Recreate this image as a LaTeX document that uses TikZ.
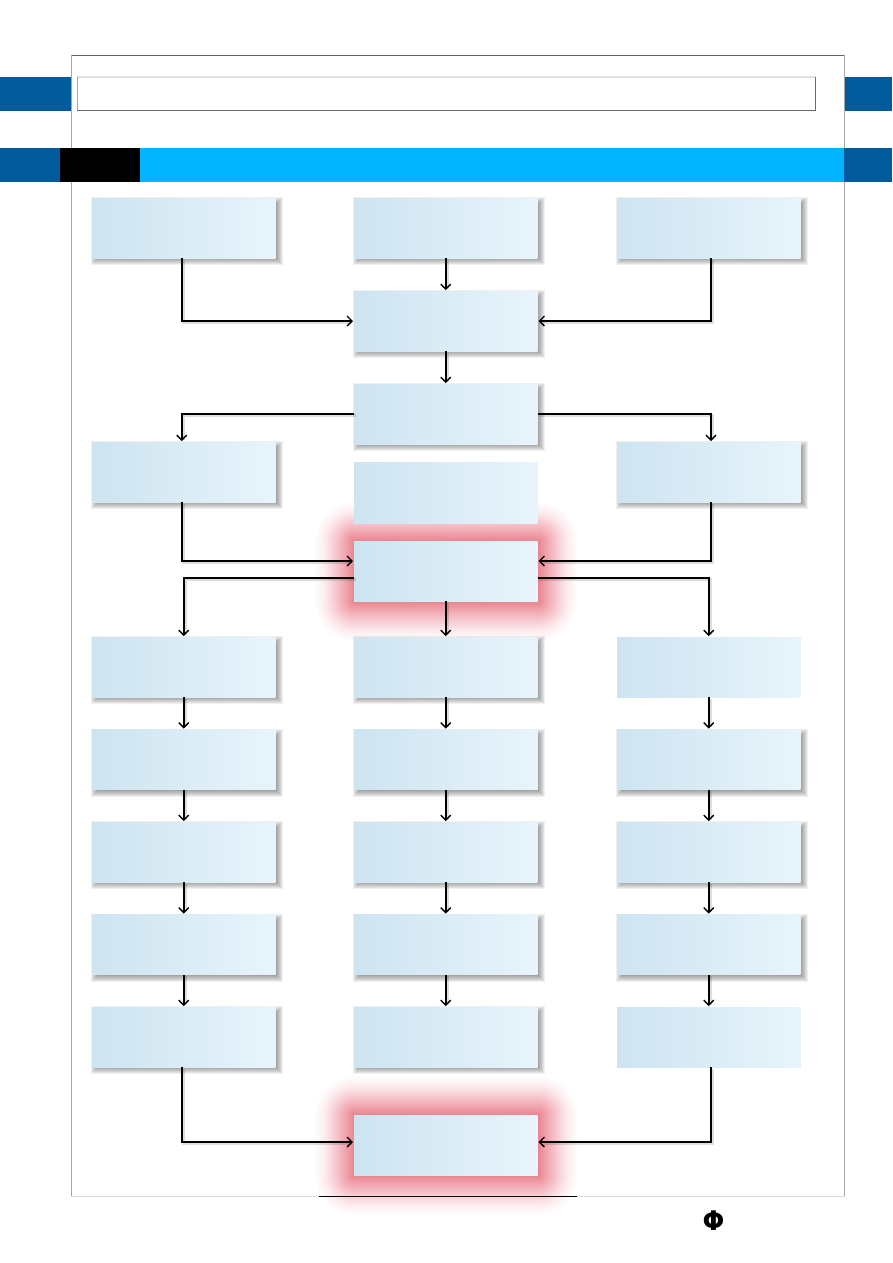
\documentclass[tikz,border=0pt]{standalone}
\usepackage{fontspec}
\usetikzlibrary{arrows.meta,calc}
\newfontfamily\glyphfont{DejaVu Sans}
\definecolor{navybar}{HTML}{005A9C}
\definecolor{cyanbar}{HTML}{00B4FF}
\definecolor{boxleft}{HTML}{CDE4F1}
\definecolor{boxright}{HTML}{E8F4FB}
% halo colour ramp, from the box edge outwards
\definecolor{glowA}{HTML}{E9848F}
\definecolor{glowB}{HTML}{F3B0B9}
\definecolor{glowC}{HTML}{F8D4D9}
\definecolor{glowD}{HTML}{FCEDEF}
\pgfdeclarehorizontalshading{glowside}{100bp}{color(0bp)=(glowA); color(25bp)=(glowA); color(40bp)=(glowB); color(52.5bp)=(glowC); color(62.5bp)=(glowD); color(75bp)=(white); color(100bp)=(white)}
\pgfdeclareverticalshading{glowtop}{100bp}{color(0bp)=(glowA); color(25bp)=(glowA); color(40bp)=(glowB); color(52.5bp)=(glowC); color(62.5bp)=(glowD); color(75bp)=(white); color(100bp)=(white)}
\pgfdeclareradialshading{glowcorner}{\pgfpoint{0bp}{0bp}}{color(0bp)=(glowA); color(7.5bp)=(glowB); color(13.75bp)=(glowC); color(18.75bp)=(glowD); color(25bp)=(white); color(50bp)=(white)}
\tikzset{
  x=1bp,y=-1bp,
  flowbox/.style={rectangle,inner sep=0pt,outer sep=0pt,anchor=north west,
    minimum width=183.5bp,minimum height=60bp,left color=boxleft,right color=boxright,shading angle=90},
  conn/.style={draw=black,line width=1.6bp,-{Straight Barb[length=5bp,width=10bp,line width=1.3bp]},shorten >=1bp,
    preaction={draw=black,draw opacity=.13,line width=2.6bp,-{},shorten >=4bp,transform canvas={shift={(1.6bp,-1.6bp)}}}},
  bar/.style={fill=navybar,draw=none},
}
% Soft drop shadow built from stacked translucent rectangles
\newcommand{\softshadow}[2]{%
  \foreach \r in {4,3,...,-3}{
    \fill[black,fill opacity=.06]
      ({#1+3-\r},{#2+3-\r}) rectangle ({#1+183.5+3+\r},{#2+60+3+\r});
  }}
% Red halo around a highlighted box: four shaded strips and four shaded corners
\newcommand{\redglow}[2]{%
  \pgfmathsetmacro{\gl}{#1}\pgfmathsetmacro{\gr}{#1+183.5}
  \pgfmathsetmacro{\gt}{#2}\pgfmathsetmacro{\gb}{#2+60}
  \shade[shading=glowtop] (\gl,\gt-40) rectangle (\gr,\gt);
  \shade[shading=glowtop,shading angle=180] (\gl,\gb) rectangle (\gr,\gb+40);
  \shade[shading=glowside] (\gr,\gt) rectangle (\gr+40,\gb);
  \shade[shading=glowside,shading angle=180] (\gl-40,\gt) rectangle (\gl,\gb);
  \foreach \cx/\cy/\dx/\dy in {\gl/\gt/-40/-40,\gr/\gt/40/-40,\gl/\gb/-40/40,\gr/\gb/40/40}{
    \begin{scope}
      \clip (\cx,\cy) rectangle (\cx+\dx,\cy+\dy);
      \shade[shading=glowcorner] (\cx,\cy) circle[radius=40];
    \end{scope}
  }}
\begin{document}
\begin{tikzpicture}
\useasboundingbox (0,0) rectangle (893,1263);
\fill[white] (0,0) rectangle (893,1263);

% halos come first so that frame and boxes sit above them
\redglow{354}{541}
\redglow{354}{1115}

% page frame
\draw[color=black!62,line width=1bp] (71,55) -- (844.5,55);
\draw[color=black!35,line width=1bp] (71,55) -- (71,1196) (844.5,55) -- (844.5,1196);
\draw[color=black!14,line width=1.2bp] (71,1196.5) -- (844.5,1196.5);
\draw[color=black,line width=1.5bp] (319,1196.5) -- (576.5,1196.5);

% heading bars
\fill[bar] (0,77) rectangle (71,111);
\fill[bar] (845,77) rectangle (892,111);
\fill[bar] (0,148) rectangle (60,182);
\fill[black] (60,148) rectangle (140,182);
\fill[cyanbar] (140,148) rectangle (844,182);
\fill[bar] (844,148) rectangle (892,182);

% title box with its lit and shaded edges
\draw[color=black!12,line width=1.2bp] (77.5,77) -- (816,77);
\draw[color=black!35,line width=1bp] (77.5,77) -- (77.5,110.5);
\draw[color=black!58,line width=1bp] (77,110.5) -- (815.5,110.5) -- (815.5,77);

% shadows of the boxes that carry one
\softshadow{92}{198}\softshadow{354}{198}\softshadow{617}{198}
\softshadow{354}{291}\softshadow{354}{384}
\softshadow{92}{442}\softshadow{617}{442}
\softshadow{92}{637}\softshadow{354}{637}
\softshadow{92}{729.5}\softshadow{354}{729.5}\softshadow{617}{729.5}
\softshadow{92}{822}\softshadow{354}{822}\softshadow{617}{822}
\softshadow{92}{914.5}\softshadow{354}{914.5}\softshadow{617}{914.5}
\softshadow{92}{1007}\softshadow{354}{1007}

% boxes
\node[flowbox] (srcL) at (92,198) {};
\node[flowbox] (srcM) at (354,198) {};
\node[flowbox] (srcR) at (617,198) {};
\node[flowbox] (merge) at (354,291) {};
\node[flowbox] (split) at (354,384) {};
\node[flowbox] (sideL) at (92,442) {};
\node[flowbox,minimum height=61bp] (note) at (354,462) {};
\node[flowbox] (sideR) at (617,442) {};
\node[flowbox] (gate) at (354,541) {};
\node[flowbox] (la) at (92,637) {};
\node[flowbox] (ma) at (354,637) {};
\node[flowbox] (ra) at (617,637) {};
\node[flowbox] (lb) at (92,729.5) {};
\node[flowbox] (mb) at (354,729.5) {};
\node[flowbox] (rb) at (617,729.5) {};
\node[flowbox] (lc) at (92,822) {};
\node[flowbox] (mc) at (354,822) {};
\node[flowbox] (rc) at (617,822) {};
\node[flowbox] (ld) at (92,914.5) {};
\node[flowbox] (md) at (354,914.5) {};
\node[flowbox] (rd) at (617,914.5) {};
\node[flowbox] (le) at (92,1007) {};
\node[flowbox] (me) at (354,1007) {};
\node[flowbox] (re) at (617,1007) {};
\node[flowbox] (goal) at (354,1115) {};

% upper connectors
\draw[conn] ([xshift=-2bp]srcL.south) |- (merge.west);
\draw[conn] (srcM.south) -- (merge.north);
\draw[conn] ([xshift=2.25bp]srcR.south) |- (merge.east);
\draw[conn] (merge.south) -- (split.north);
\draw[conn] (split.west) -| ([xshift=-2bp]sideL.north);
\draw[conn] (split.east) -| ([xshift=2.25bp]sideR.north);
\draw[conn] ([xshift=-2bp]sideL.south) |- ([yshift=10bp]gate.west);
\draw[conn] ([xshift=2.25bp]sideR.south) |- ([yshift=10bp]gate.east);

% fan-out from the gate
\draw[conn] ([yshift=-7bp]gate.west) -| (la.north);
\draw[conn] (gate.south) -- (ma.north);
\draw[conn] ([yshift=-7bp]gate.east) -| (ra.north);

% column chains
\foreach \a/\b in {la/lb,lb/lc,lc/ld,ld/le,ma/mb,mb/mc,mc/md,md/me,ra/rb,rb/rc,rc/rd,rd/re}{
  \draw[conn] (\a.south) -- (\b.north);
}

% lower connectors
\draw[conn] ([xshift=-2bp]le.south) |- ([yshift=3bp]goal.west);
\draw[conn] ([xshift=2.25bp]re.south) |- ([yshift=3bp]goal.east);

% footer mark
\node[inner sep=0pt,xscale=.95,font=\glyphfont\bfseries\fontsize{27bp}{27bp}\selectfont] (mark) at (713.5,1221) {Φ};
\end{tikzpicture}
\end{document}
